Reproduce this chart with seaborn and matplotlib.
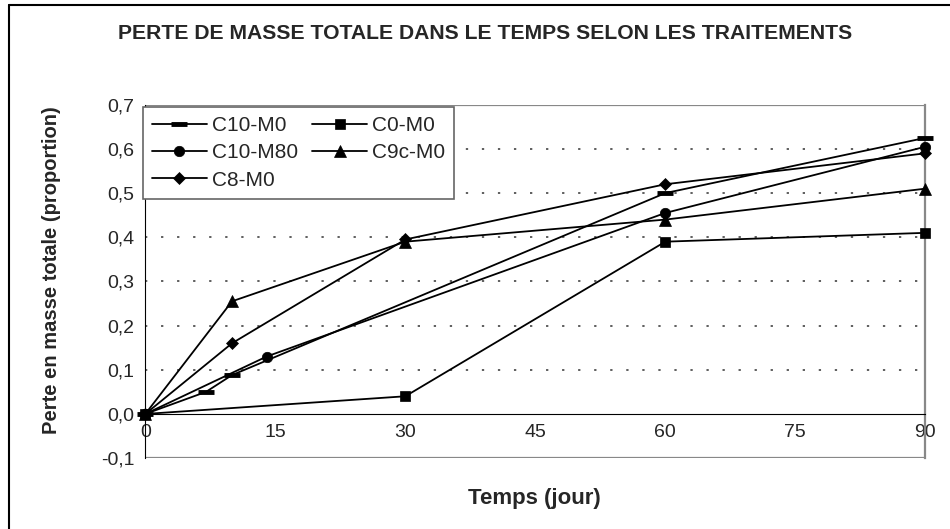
import numpy as np
import pandas as pd
import seaborn as sns
import matplotlib.pyplot as plt
from matplotlib.lines import Line2D

# données (jours, proportion de masse perdue)
jours_c10_m0 = [0, 7, 10, 60, 90]
perte_c10_m0 = [0.0, 0.05, 0.088, 0.50, 0.625]

jours_c0_m0 = [0, 30, 60, 90]
perte_c0_m0 = [0.0, 0.04, 0.39, 0.41]

jours_c10_m80 = [0, 14, 60, 90]
perte_c10_m80 = [0.0, 0.13, 0.455, 0.605]

jours_c9c_m0 = [0, 10, 30, 60, 90]
perte_c9c_m0 = [0.0, 0.255, 0.39, 0.44, 0.51]

jours_c8_m0 = [0, 10, 30, 60, 90]
perte_c8_m0 = [0.0, 0.16, 0.395, 0.52, 0.59]

x_ticks = [0, 15, 30, 45, 60, 75, 90]
y_ticks = [-0.1, 0.0, 0.1, 0.2, 0.3, 0.4, 0.5, 0.6, 0.7]
y_labels = ["-0,1", "0,0", "0,1", "0,2", "0,3", "0,4", "0,5", "0,6", "0,7"]

sns.set_style("white")
plt.rcParams['font.family'] = ['Liberation Sans', 'DejaVu Sans']

fig = plt.figure(figsize=(9.5, 5.29), dpi=100)
ax = fig.add_axes([0.153, 0.134, 0.821, 0.668])

# lignes de grille pointillées (style Excel)
for v in [0.1, 0.2, 0.3, 0.4, 0.5, 0.6]:
    ax.axhline(v, color='#333333', lw=1.1, ls=(0, (1.5, 9)), zorder=0)
ax.axhline(-0.1, color='#888888', lw=1.6, zorder=0)
ax.axhline(0.7, color='#888888', lw=1.6, zorder=0)

series = [
    ("C10-M0", jours_c10_m0, perte_c10_m0, "_", 11, 3.5),
    ("C10-M80", jours_c10_m80, perte_c10_m80, "o", 7.5, 0.5),
    ("C8-M0", jours_c8_m0, perte_c8_m0, "D", 6.5, 0.5),
    ("C0-M0", jours_c0_m0, perte_c0_m0, "s", 7, 0.5),
    ("C9c-M0", jours_c9c_m0, perte_c9c_m0, "^", 8.5, 0.5),
]

for nom, x, y, m, ms, mew in series:
    df = pd.DataFrame({"jour": x, "perte": y})
    sns.lineplot(data=df, x="jour", y="perte", ax=ax, color="black", lw=1.3,
                 marker=m, markersize=ms, markerfacecolor="black",
                 markeredgecolor="black", markeredgewidth=mew, label=nom,
                 clip_on=False, zorder=3)

ax.set_xlim(0, 90)
ax.set_ylim(-0.1, 0.7)
ax.set_xticks(x_ticks)
ax.set_xticklabels([str(t) for t in x_ticks])
ax.set_yticks(y_ticks)
ax.set_yticklabels(y_labels)

ax.spines['bottom'].set_position(('data', 0))
ax.spines['bottom'].set_color('black')
ax.spines['left'].set_color('black')
ax.spines['top'].set_visible(False)
ax.spines['right'].set_color('#888888')
ax.spines['right'].set_linewidth(1.6)
ax.tick_params(axis='both', direction='out', length=5, width=1,
               color='black', labelsize=14, pad=3)
ax.tick_params(axis='x', pad=2)

ax.set_xlabel("")
ax.set_ylabel("")
fig.text(0.562, 0.058, "Temps (jour)", ha='center', va='center',
         fontsize=16, fontweight='bold')
fig.text(0.054, 0.49, "Perte en masse totale (proportion)", ha='center',
         va='center', rotation=90, fontsize=14.5, fontweight='bold')
fig.text(0.511, 0.936, "PERTE DE MASSE TOTALE DANS LE TEMPS SELON LES TRAITEMENTS",
         ha='center', va='center', fontsize=15.2, fontweight='bold')

leg = ax.legend(ncol=2, loc='upper left', bbox_to_anchor=(-0.003, 0.995),
                fontsize=15, frameon=True, fancybox=False, handlelength=2.6,
                columnspacing=0.7, borderpad=0.45, labelspacing=0.4,
                handletextpad=0.25, borderaxespad=0)
leg.get_frame().set_edgecolor('#666666')
leg.get_frame().set_linewidth(1.2)
leg.get_frame().set_alpha(1)

# cadre de la figure
fig.add_artist(Line2D([0.009, 0.009], [0, 0.99], color='black', lw=1.5))
fig.add_artist(Line2D([0.009, 1.0], [0.99, 0.99], color='black', lw=1.5))

fig.savefig("out.png", dpi=100, facecolor='white')
